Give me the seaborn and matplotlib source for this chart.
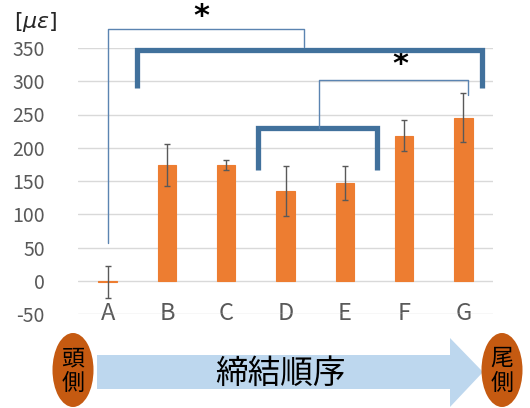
import numpy as np
import pandas as pd
import matplotlib
matplotlib.use("Agg")
import matplotlib.pyplot as plt
import seaborn as sns
from matplotlib.patches import Polygon, Ellipse

# ---- data ----
categories = ["A", "B", "C", "D", "E", "F", "G"]
means = [-2, 174, 174, 135, 147, 218, 245]
errors = [24, 31, 8, 38, 26, 23, 37]
yticks = [-50, 0, 50, 100, 150, 200, 250, 300, 350]

# significance brackets (category index / value)
thick1 = dict(x0=0.5, x1=6.31, top=347, bottom=290)
thick2 = dict(x0=2.54, x1=4.55, top=230, bottom=167)
thin1 = dict(x0=0.0, y0=57, x1=3.32, top=379, y1=351)
thin2 = dict(x0=3.57, y0=230, x1=6.07, top=302, y1=279)
stars = [(1.58, 397), (4.93, 325)]

sns.set_theme(style="white")
plt.rcParams['font.family'] = ['Noto Sans CJK JP', 'DejaVu Sans']

fig = plt.figure(figsize=(5.3, 4.08), dpi=100)
ax = fig.add_axes([78/530, (408-314)/408, (493-78)/530, (314-48)/408])

df = pd.DataFrame({"cat": categories, "val": means})
sns.barplot(data=df, x="cat", y="val", color="#ed7d31", saturation=1,
            width=0.31, errorbar=None, ax=ax, zorder=3,
            edgecolor="#ed7d31", linewidth=0.8)
ax.errorbar(np.arange(len(categories)), means, yerr=errors, fmt="none",
            ecolor="#595959", elinewidth=1, capsize=2.5, capthick=1, zorder=4)

ax.set_ylim(-50, 350)
ax.set_xlim(-0.5, 6.5)
ax.set_yticks(yticks)
ax.set_yticklabels([str(v) for v in yticks])
ax.yaxis.grid(True, color="#d9d9d9", linewidth=1)
ax.set_axisbelow(True)
for s in ax.spines.values():
    s.set_visible(False)
ax.set_xlabel("")
ax.set_ylabel("")
ax.tick_params(axis="y", length=0, pad=24, labelsize=14, labelcolor="#595959")
ax.tick_params(axis="x", length=0, pad=0, labelsize=17, labelcolor="#595959")
for lab in ax.get_xticklabels():
    lab.set_va("center")

thick_c = "#41719c"
thin_c = "#5b84b1"
for b in (thick1, thick2):
    ax.plot([b["x0"], b["x0"], b["x1"], b["x1"]],
            [b["bottom"], b["top"], b["top"], b["bottom"]],
            color=thick_c, lw=3.8, solid_joinstyle="miter", solid_capstyle="butt",
            clip_on=False, zorder=5)
for b in (thin1, thin2):
    ax.plot([b["x0"], b["x0"], b["x1"], b["x1"]],
            [b["y0"], b["top"], b["top"], b["y1"]],
            color=thin_c, lw=1, clip_on=False, zorder=5)
for sx, sy in stars:
    ax.text(sx, sy, "*", fontsize=22, fontweight="bold", ha="center", va="center",
            color="black", clip_on=False, family="DejaVu Sans")

# overlay in pixel coordinates for decorations
ov = fig.add_axes([0, 0, 1, 1], facecolor="none")
ov.set_xlim(0, 530)
ov.set_ylim(408, 0)
ov.axis("off")

ov.text(36, 22, r"[$\mu\varepsilon$]", fontsize=16, ha="center", va="center",
        color="#262626", family="DejaVu Sans")

arrow = Polygon([(97, 355), (450, 355), (450, 338), (483, 372),
                 (450, 407), (450, 389), (97, 389)],
                closed=True, facecolor="#bdd7ee", edgecolor="none")
ov.add_patch(arrow)
ov.text(280, 374, "締結順序", fontsize=23.5, ha="center", va="center", color="black")

for cx, txt in ((73, "頭\n側"), (502, "尾\n側")):
    ov.add_patch(Ellipse((cx, 370), 41, 74, facecolor="#c55a11", edgecolor="none"))
    ov.text(cx, 371, txt, fontsize=16.5, ha="center", va="center",
            color="black", linespacing=1.1)

fig.savefig("out.png", dpi=100)
